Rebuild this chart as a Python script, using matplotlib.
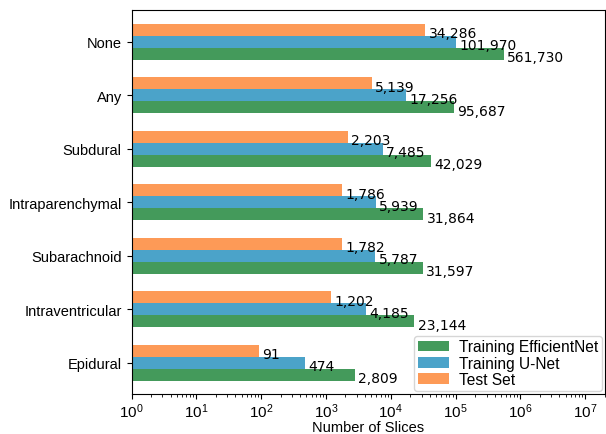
import numpy as np
import matplotlib.pyplot as plt

categories = ["None", "Any", "Subdural", "Intraparenchymal",
              "Subarachnoid", "Intraventricular", "Epidural"]
test_set = [34286, 5139, 2203, 1786, 1782, 1202, 91]
train_unet = [101970, 17256, 7485, 5939, 5787, 4185, 474]
train_effnet = [561730, 95687, 42029, 31864, 31597, 23144, 2809]

series = [
    ("Test Set", test_set, "#fd9a57", -0.224),
    ("Training U-Net", train_unet, "#4ba3c9", 0.0),
    ("Training EfficientNet", train_effnet, "#449a5b", 0.224),
]

plt.rcParams['font.family'] = ['Liberation Sans', 'DejaVu Sans']

fig = plt.figure(figsize=(6.06, 4.35), dpi=100)
ax = fig.add_axes([0.217, 0.092, 0.781, 0.883])

y = np.arange(len(categories))
bars = {}
for name, vals, color, off in series:
    bars[name] = ax.barh(y + off, vals, height=0.224, color=color,
                         left=1, label=name)
    for yi, v in zip(y, vals):
        # value label just right of the bar, sitting slightly low
        ax.text(v * 1.12, yi + off + 0.06, f"{v:,}", va="center", ha="left",
                fontsize=10, family="DejaVu Sans")

ax.set_xscale("log")
ax.set_xlim(1, 2e7)
ax.set_ylim(6.58, -0.6)
ax.set_yticks(y)
ax.set_yticklabels(categories, fontsize=10.5)
ax.tick_params(axis="x", labelsize=11, pad=2)
ax.set_xlabel("Number of Slices", fontsize=10.5, labelpad=0)

handles = [bars["Training EfficientNet"], bars["Training U-Net"], bars["Test Set"]]
ax.legend(handles, [h.get_label() for h in handles], loc="lower right",
          fontsize=11.2, borderaxespad=0.2, handlelength=2.0,
          labelspacing=0.08, borderpad=0.25, handletextpad=0.6)

fig.savefig("out.png", dpi=100)
